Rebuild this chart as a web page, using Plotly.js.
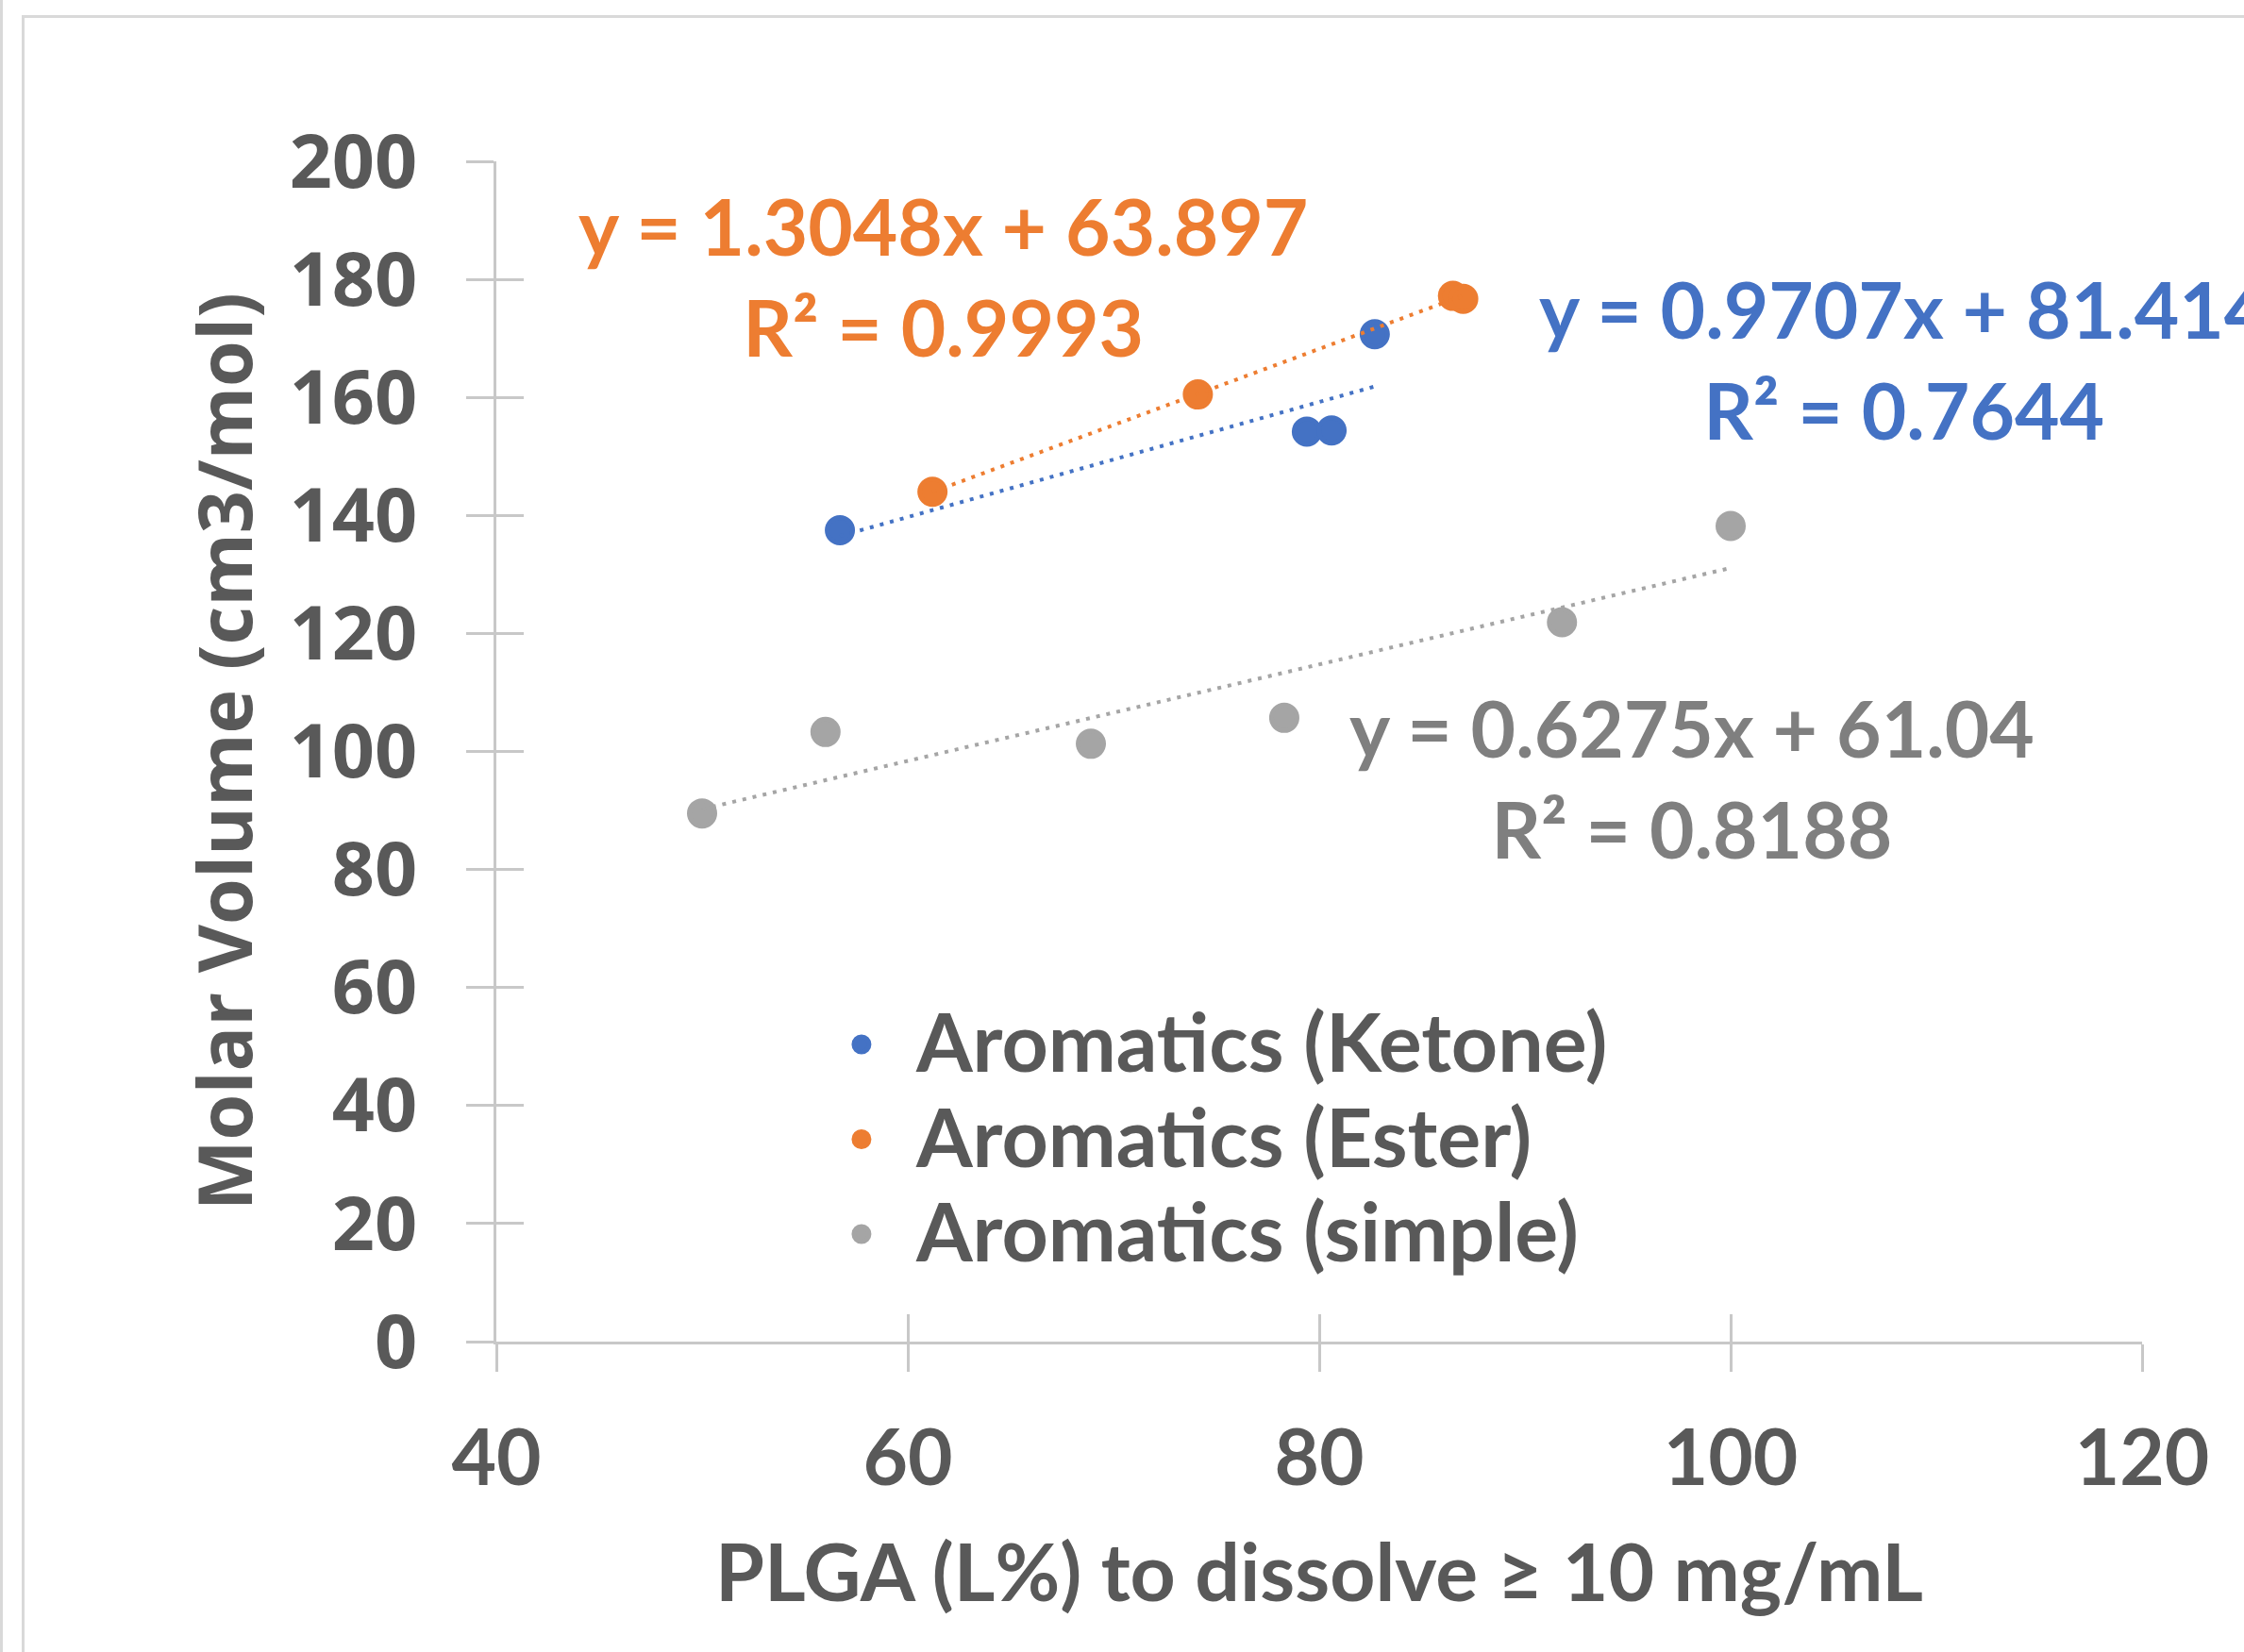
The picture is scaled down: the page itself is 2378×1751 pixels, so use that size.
<!DOCTYPE html>
<html><head><meta charset="utf-8">
<script src="https://cdn.plot.ly/plotly-3.0.1.min.js"></script>
<style>
html,body{margin:0;padding:0;background:#fff;overflow:hidden;}
#chart{width:2378px;height:1751px;}
.b1{position:absolute;left:0;top:0;width:3px;height:1751px;background:#d9d9d9;pointer-events:none;}
.b2{position:absolute;left:23px;top:16px;right:0;bottom:0;border-left:3px solid #d9d9d9;border-top:3px solid #d9d9d9;pointer-events:none;}
</style></head>
<body>
<div id="chart"></div><div class="b1"></div><div class="b2"></div>
<script>
// ---- data ----
const seriesNames = ['Aromatics (Ketone)', 'Aromatics (Ester)', 'Aromatics (simple)'];
const seriesColors = ['#4472C4', '#ED7D31', '#A5A5A5'];
const labelColors = ['#4472C4', '#ED7D31', '#7F7F7F'];
const ketoneX = [56.7, 79.4, 80.6, 82.7];
const ketoneY = [137.5, 154.2, 154.4, 170.7];
const esterX = [61.2, 74.1, 86.5, 87.0];
const esterY = [144.0, 160.5, 177.2, 176.7];
const simpleX = [50.0, 56.0, 68.9, 78.3, 91.8, 100.0];
const simpleY = [89.5, 103.3, 101.3, 105.7, 121.9, 138.2];
const equationTexts = [
  'y = 0.9707x + 81.414<br>R² = 0.7644',
  'y = 1.3048x + 63.897<br>R² = 0.9993',
  'y = 0.6275x + 61.04<br>R² = 0.8188'
];
const xTicks = [40, 60, 80, 100, 120];
const yTicks = [0, 20, 40, 60, 80, 100, 120, 140, 160, 180, 200];
const xTitle = 'PLGA (L%) to dissolve ≥ 10 mg/mL';
const yTitle = 'Molar Volume (cm3/mol)';

// label anchor positions (data units)
const labelPos = [[108.4, 166.5], [61.7, 180.5], [98.1, 95.5]];

// least-squares linear trendline over the series' x extent
function trend(xs, ys) {
  const n = xs.length;
  const mx = xs.reduce((a, b) => a + b, 0) / n;
  const my = ys.reduce((a, b) => a + b, 0) / n;
  let sxx = 0, sxy = 0;
  for (let i = 0; i < n; i++) { sxx += (xs[i] - mx) ** 2; sxy += (xs[i] - mx) * (ys[i] - my); }
  const m = sxy / sxx, b = my - m * mx;
  const x0 = Math.min(...xs), x1 = Math.max(...xs);
  return { x: [x0, x1], y: [m * x0 + b, m * x1 + b] };
}

const XS = [ketoneX, esterX, simpleX];
const YS = [ketoneY, esterY, simpleY];

const CAL = 'Lato, "Open Sans", sans-serif';
const VER = '"Open Sans", "DejaVu Sans", sans-serif';
const TXT = '#595959';
const AX = '#c8c8c8';

const traces = [];
for (let i = 0; i < 3; i++) {
  traces.push({
    type: 'scatter', mode: 'markers',
    name: '<span style="font-size:86px">' + seriesNames[i] + '</span>',
    x: XS[i], y: YS[i], xaxis: 'x', yaxis: 'y',
    marker: { size: 27, color: seriesColors[i], line: { width: 5, color: seriesColors[i] } },
    hoverinfo: 'x+y'
  });
}
for (let i = 0; i < 3; i++) {
  const t = trend(XS[i], YS[i]);
  traces.push({
    type: 'scatter', mode: 'lines', x: t.x, y: t.y, xaxis: 'x2', yaxis: 'y2',
    showlegend: false, hoverinfo: 'skip',
    line: { color: seriesColors[i], width: 4, dash: '4px,7px' }
  });
}

const annotations = labelPos.map((p, i) => ({
  x: p[0], y: p[1], xref: 'x', yref: 'y', text: equationTexts[i], showarrow: false,
  xanchor: 'center', yanchor: 'middle', align: 'center',
  font: { family: CAL, size: 82, color: labelColors[i], weight: 700 }
}));

const layout = {
  width: 2378, height: 1751, autosize: false,
  paper_bgcolor: '#ffffff', plot_bgcolor: '#ffffff',
  margin: { l: 526, r: 108, t: 171, b: 329 },
  showlegend: true,
  xaxis: {
    range: [40, 120], tickmode: 'array', tickvals: xTicks, ticktext: xTicks.map(String),
    ticks: 'outside', ticklen: 29, tickwidth: 3, tickcolor: AX,
    showline: true, linecolor: AX, linewidth: 3, showgrid: false, zeroline: false,
    automargin: false, ticklabelstandoff: 22,
    tickfont: { family: CAL, size: 82, color: TXT, weight: 700 },
    title: { text: xTitle, standoff: 48, font: { family: CAL, size: 84, color: TXT, weight: 700 } }
  },
  yaxis: {
    range: [0, 200], tickmode: 'array', tickvals: yTicks, ticktext: yTicks.map(String),
    ticks: 'outside', ticklen: 29, tickwidth: 3, tickcolor: AX,
    showline: true, linecolor: AX, linewidth: 3, showgrid: false, zeroline: false,
    automargin: false, ticklabelstandoff: 36,
    tickfont: { family: VER, size: 79, color: TXT, weight: 700 },
    title: { text: yTitle, standoff: 14, font: { family: VER, size: 79, color: TXT, weight: 700 } }
  },
  xaxis2: {
    overlaying: 'x', anchor: 'y2', range: [40, 120], tickmode: 'array', tickvals: xTicks,
    ticks: 'inside', ticklen: 29, tickwidth: 3, tickcolor: AX, showticklabels: false,
    showline: false, showgrid: false, zeroline: false, automargin: false
  },
  yaxis2: {
    overlaying: 'y', anchor: 'x2', range: [0, 200], tickmode: 'array', tickvals: yTicks,
    ticks: 'inside', ticklen: 29, tickwidth: 3, tickcolor: AX, showticklabels: false,
    showline: false, showgrid: false, zeroline: false, automargin: false
  },
  legend: {
    x: 0.1886, y: 0.296, xanchor: 'left', yanchor: 'top', itemwidth: 106,
    bgcolor: 'rgba(0,0,0,0)', borderwidth: 0,
    font: { family: CAL, size: 75, color: TXT, weight: 700 }
  },
  annotations: annotations
};

Plotly.newPlot('chart', traces, layout, { displayModeBar: false, staticPlot: true });
</script>
</body></html>
